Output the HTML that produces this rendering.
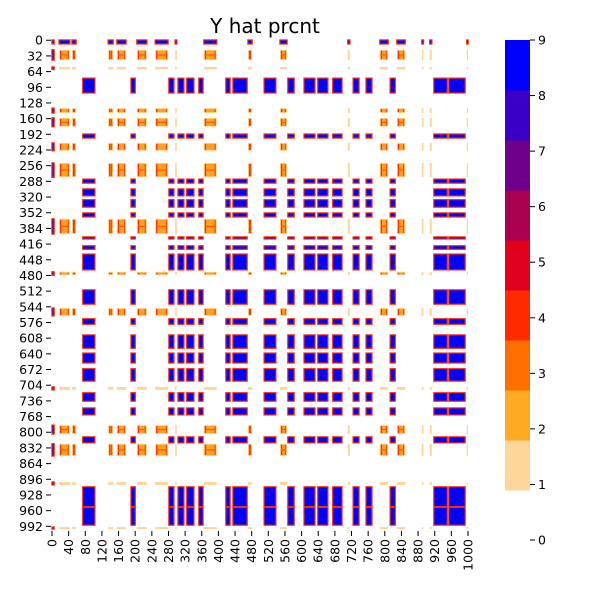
<!DOCTYPE html>
<html><head><meta charset="utf-8">
<style>
html,body{margin:0;padding:0;background:#fff;}
svg{display:block;font-family:"DejaVu Sans","Liberation Sans",sans-serif;}
</style></head>
<body>
<svg id="chart" width="600" height="600" viewBox="0 0 600 600" xmlns="http://www.w3.org/2000/svg">
<rect width="600" height="600" fill="#fff"/>
<text x="265" y="33" font-size="20" text-anchor="middle" fill="#000">Y hat prcnt</text>
<g id="cells"></g>
<g id="yaxis"></g>
<g id="xaxis"></g>
<g id="cbar"></g>
</svg>
<script>
// Row bands [start, end, type]; A = low-value cluster, B = high-value cluster, C = edge marker
const rowBands = [
 [0,8,'C'],[20,41,'A'],[55,60,'A'],[78,108,'B'],[139,149,'A'],[159,177,'A'],[192,200,'B'],
 [210,226,'A'],[251,280,'A'],[284,292,'B'],[304,318,'B'],[326,341,'B'],[353,361,'B'],
 [365,396,'A'],[402,406,'B'],[420,427,'B'],[437,469,'B'],[473,480,'A'],[510,539,'B'],
 [547,563,'A'],[569,580,'B'],[602,629,'B'],[639,659,'B'],[671,696,'B'],[708,714,'A'],
 [720,737,'B'],[751,765,'B'],[786,804,'A'],[810,822,'B'],[824,849,'A'],[902,908,'A'],
 [912,952,'B'],[954,990,'B'],[994,998,'A']
];
// Column bands [start, end, type]
const colBands = [
 [0,5,'C'],[17,43,'A'],[48,58,'A'],[74,103,'B'],[135,147,'A'],[156,178,'A'],[190,200,'B'],
 [204,228,'A'],[248,279,'A'],[281,293,'B'],[296,300,'A'],[303,317,'B'],[324,341,'B'],
 [353,363,'B'],[365,396,'A'],[418,428,'B'],[435,469,'B'],[471,481,'A'],[510,538,'B'],
 [548,565,'A'],[567,582,'B'],[606,632,'B'],[639,663,'B'],[675,697,'B'],[711,716,'A'],
 [724,738,'B'],[755,769,'B'],[788,808,'A'],[813,825,'B'],[829,849,'A'],[889,893,'A'],
 [908,913,'A'],[918,950,'B'],[954,993,'B'],[997,1000,'A']
];
// Tick labels
const yTicks = [0,32,64,96,128,160,192,224,256,288,320,352,384,416,448,480,512,544,576,608,640,672,704,736,768,800,832,864,896,928,960,992];
const xTicks = [0,40,80,120,160,200,240,280,320,360,400,440,480,520,560,600,640,680,720,760,800,840,880,920,960,1000];
const cbarTicks = [0,1,2,3,4,5,6,7,8,9];
const cbarColors = ['#ffffff','#ffd699','#ffaa22','#ff6e00','#ff2a00','#e0001e','#aa0050','#6e008c','#3a00c8','#0000ff'];

const NS = 'http://www.w3.org/2000/svg';
const X0 = 52, X1 = 468, Y0 = 40, Y1 = 530;
const xs = c => X0 + c * (X1 - X0) / 1000;
const ys = r => Y0 + r * (Y1 - Y0) / 1000;
function mk(tag, attrs, parent){
  const e = document.createElementNS(NS, tag);
  for (const k in attrs) e.setAttribute(k, attrs[k]);
  parent.appendChild(e);
  return e;
}
const cells = document.getElementById('cells');
function block(x, y, w, h, fill, name){
  const e = mk('rect', {x:x, y:y, width:Math.max(w,0.8), height:Math.max(h,0.8), fill:fill}, cells);
  
  
}
rowBands.forEach(rb => {
  colBands.forEach(cb => {
    const t = rb[2] + cb[2];
    const x = xs(cb[0]), y = ys(rb[0]);
    const w = xs(cb[1]) - x, h = ys(rb[1]) - y;
    if (t === 'BB' || t === 'CA' || t === 'AC' || t === 'CC') {
      block(x - 0.7, y - 0.7, w + 1.4, h + 1.4, '#ff2a00', 'cell-block-edge');
      block(x + 0.5, y + 0.5, w - 1, h - 1, '#0000ff', 'cell-block-high');
    } else if (t === 'AA') {
      block(x, y, w, h, '#ffd699', 'cell-block-low');
      if (w > 3 && h > 3) {
        block(x + 0.8, y + 0.8, w - 1.6, h - 1.6, '#ffa020', 'cell-block-mid');
        block(x + 1, y + 1, 1.2, h - 2, '#ff2a00', 'cell-block-stripe');
        block(x + w - 2.2, y + 1, 1.2, h - 2, '#ff4a00', 'cell-block-stripe');
        if (h > 8) block(x + 1, y + h / 2 - 0.6, w - 2, 1.2, '#ff5a00', 'cell-block-stripe');
      }
    }
  });
});
// Y axis
const ya = document.getElementById('yaxis');
yTicks.forEach(v => {
  const y = ys(v + 0.5);
  const l = mk('line', {x1:46, x2:51, y1:y, y2:y, stroke:'#000', 'stroke-width':1}, ya);
  
  
  const t = mk('text', {x:43, y:y + 4.5, 'font-size':12.5, 'text-anchor':'end', fill:'#000'}, ya);
  
  
  t.textContent = v;
});
// X axis
const xa = document.getElementById('xaxis');
xTicks.forEach(v => {
  const x = xs(v);
  const l = mk('line', {x1:x, x2:x, y1:531, y2:536, stroke:'#000', 'stroke-width':1}, xa);
  
  
  const t = mk('text', {x:0, y:0, 'font-size':12.5, 'text-anchor':'end', fill:'#000',
    transform:'translate(' + (x + 4.5) + ',539) rotate(-90)'}, xa);
  
  
  t.textContent = v;
});
// Colorbar
const cb = document.getElementById('cbar');
const CB_TOP = 40, CB_BOT = 540, CBX = 505, CBW = 25;
cbarColors.forEach((c, i) => {
  const h = (CB_BOT - CB_TOP) / cbarColors.length;
  const r = mk('rect', {x:CBX, y:CB_BOT - (i + 1) * h, width:CBW, height:h + 0.5, fill:c}, cb);
  
  
});
cbarTicks.forEach(v => {
  const y = CB_BOT - v * (CB_BOT - CB_TOP) / 9;
  const l = mk('line', {x1:CBX + CBW, x2:CBX + CBW + 5, y1:y, y2:y, stroke:'#000', 'stroke-width':1}, cb);
  
  
  const t = mk('text', {x:CBX + CBW + 8, y:y + 4.5, 'font-size':12.5, fill:'#000'}, cb);
  
  
  t.textContent = v;
});
</script>
</body></html>
